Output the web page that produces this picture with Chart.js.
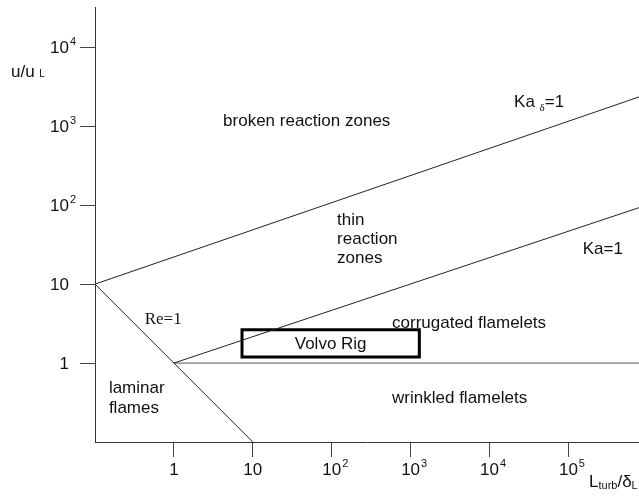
<!DOCTYPE html>
<html lang="en">
<head>
<meta charset="UTF-8">
<title>Turbulent premixed combustion regimes</title>
<script src="https://cdn.jsdelivr.net/npm/chart.js@4"></script>
<style>
  html, body { margin: 0; padding: 0; background: #fff; }
  #wrap { width: 639px; height: 497px; }
</style>
</head>
<body>
<div id="wrap"><canvas id="chart" width="639" height="497"></canvas></div>
<script>
// regime boundaries: length scale ratio L_turb/delta_L against velocity ratio u/u_L
const kaDeltaX = [0.1, 785000];
const kaDeltaY = [10, 2350];
const kaOneX = [1, 785000];
const kaOneY = [1, 93];
const reOneX = [0.1, 10];
const reOneY = [10, 0.1];
const unityX = [1, 785000];
const unityY = [1, 1];

// operating window of the Volvo rig
const rigX = [7.3, 1290, 1290, 7.3, 7.3];
const rigY = [1.19, 1.19, 2.64, 2.64, 1.19];

const xTicks = [1, 10, 100, 1000, 10000, 100000];
const yTicks = [1, 10, 100, 1000, 10000];

const FONT = '"Liberation Sans", Arial, Helvetica, sans-serif';
const SERIF = '"Liberation Serif", "Times New Roman", serif';

function pts(xs, ys) {
  return xs.map((x, i) => ({ x: x, y: ys[i] }));
}

function boundary(xs, ys) {
  return {
    data: pts(xs, ys),
    showLine: true,
    borderColor: '#222',
    borderWidth: 1,
    pointRadius: 0,
    fill: false
  };
}

// "10" with a raised exponent, or a plain number for 1 and 10
function drawTickText(ctx, v, px, baseline, align) {
  const p = Math.round(Math.log10(v));
  ctx.font = '17px ' + FONT;
  if (p <= 1) {
    ctx.textAlign = align;
    ctx.fillText(String(v), px, baseline);
    return;
  }
  const base = '10';
  const w = ctx.measureText(base).width;
  let left = align === 'center' ? px - w / 2 : px - w;
  ctx.textAlign = 'left';
  ctx.fillText(base, left, baseline);
  ctx.font = '11px ' + FONT;
  ctx.fillText(String(p), left + w + 1, baseline - 8);
}

// runs of [text, size, font, dy] drawn one after another
function drawRuns(ctx, runs, x, baseline) {
  ctx.textAlign = 'left';
  let cx = x;
  runs.forEach(r => {
    ctx.font = r[1] + 'px ' + r[2];
    ctx.fillText(r[0], cx, baseline + (r[3] || 0));
    cx += ctx.measureText(r[0]).width;
  });
}

const regimeLabels = {
  id: 'regimeLabels',
  afterDraw(chart) {
    const { ctx, chartArea, scales: { x, y } } = chart;
    ctx.save();
    ctx.fillStyle = '#111';
    ctx.textBaseline = 'alphabetic';

    xTicks.forEach(v => drawTickText(ctx, v, x.getPixelForValue(v), chartArea.bottom + 33, 'center'));
    yTicks.forEach(v => drawTickText(ctx, v, y.getPixelForValue(v) > 0 ? 69 : 69, y.getPixelForValue(v) + 6, 'right'));

    // axis titles
    drawRuns(ctx, [['u/u', 17, FONT], [' ', 17, FONT], ['L', 10, FONT]], 11, 77);
    drawRuns(ctx, [['L', 17, FONT], ['turb', 11, FONT, 2], ['/', 17, FONT], ['\u03b4', 17, FONT], ['L', 11, FONT, 2]], 589, 487);

    // region names, anchored in data coordinates (left edge, baseline)
    const notes = [
      { lines: ['broken reaction zones'], x: 4.2, y: 1000 },
      { lines: ['thin', 'reaction', 'zones'], x: 117, y: 56.3, lead: 19.3 },
      { lines: ['corrugated flamelets'], x: 582, y: 2.82 },
      { lines: ['wrinkled flamelets'], x: 582, y: 0.312 },
      { lines: ['laminar', 'flames'], x: 0.15, y: 0.417, lead: 20 }
    ];
    ctx.font = '17px ' + FONT;
    ctx.textAlign = 'left';
    notes.forEach(n => {
      const px = x.getPixelForValue(n.x);
      const py = y.getPixelForValue(n.y);
      n.lines.forEach((t, i) => ctx.fillText(t, px, py + i * (n.lead || 0)));
    });

    // boundary names
    drawRuns(ctx, [['Ka ', 17, FONT], ['\u03b4', 11, SERIF, 4], ['=1', 17, FONT]],
      x.getPixelForValue(20500), y.getPixelForValue(1755));
    drawRuns(ctx, [['Ka=1', 17, FONT]], x.getPixelForValue(152000), y.getPixelForValue(24));
    drawRuns(ctx, [['Re=1', 17, SERIF]], x.getPixelForValue(0.426), y.getPixelForValue(3.14));

    // rig label centred in its box
    const cx = (x.getPixelForValue(rigX[0]) + x.getPixelForValue(rigX[1])) / 2;
    const cy = (y.getPixelForValue(rigY[0]) + y.getPixelForValue(rigY[2])) / 2;
    ctx.font = '17px ' + FONT;
    ctx.textAlign = 'center';
    ctx.fillText('Volvo Rig', cx, cy + 6);

    ctx.restore();
  }
};

const axisGrid = { drawOnChartArea: false, drawTicks: true, tickLength: 15, color: '#444', lineWidth: 1 };
const axisBorder = { color: '#333', width: 1 };

new Chart(document.getElementById('chart'), {
  type: 'scatter',
  data: {
    datasets: [
      boundary(kaDeltaX, kaDeltaY),
      boundary(kaOneX, kaOneY),
      boundary(reOneX, reOneY),
      Object.assign(boundary(unityX, unityY), { borderColor: '#555' }),
      Object.assign(boundary(rigX, rigY), { borderColor: '#000', borderWidth: 3, borderCapStyle: 'square' })
    ]
  },
  options: {
    responsive: false,
    animation: false,
    layout: { padding: { top: 7, right: 0, left: 0, bottom: 0 } },
    plugins: {
      legend: { display: false },
      tooltip: { enabled: false }
    },
    scales: {
      x: {
        type: 'logarithmic',
        position: 'bottom',
        min: 0.1,
        max: 785000,
        afterBuildTicks: s => { s.ticks = xTicks.map(v => ({ value: v })); },
        afterFit: s => { s.height = 55; },
        grid: axisGrid,
        border: axisBorder,
        ticks: { display: false }
      },
      y: {
        type: 'logarithmic',
        position: 'left',
        min: 0.1,
        max: 32400,
        afterBuildTicks: s => { s.ticks = yTicks.map(v => ({ value: v })); },
        afterFit: s => { s.width = 95; },
        grid: axisGrid,
        border: axisBorder,
        ticks: { display: false }
      }
    }
  },
  plugins: [regimeLabels]
});
</script>
</body>
</html>
